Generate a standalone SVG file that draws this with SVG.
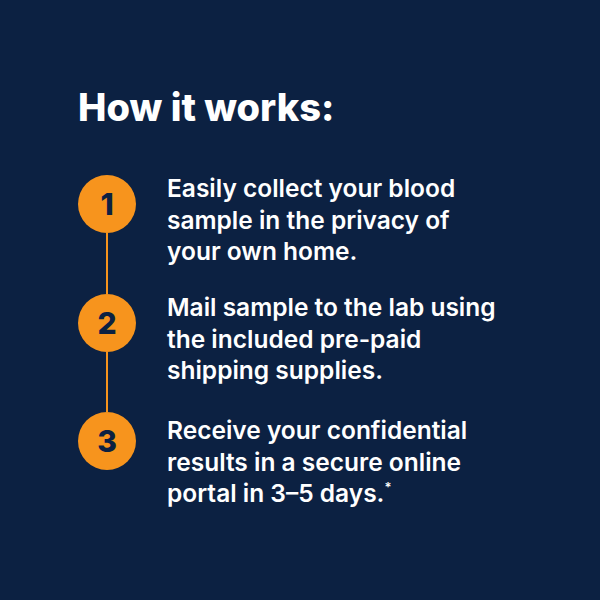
<svg xmlns="http://www.w3.org/2000/svg" width="600" height="600" viewBox="0 0 600 600">
<style>
.t{font-family:Inter,"Liberation Sans",sans-serif;fill:#fff;font-weight:600;font-size:24.5px}
.c{fill:#f7941d}
.n{font-family:Inter,"Liberation Sans",sans-serif;fill:#0c2142;font-weight:800;font-size:30px;text-anchor:middle}
</style>
<rect width="600" height="600" fill="#0c2142"/>
<text x="78" y="121" style="font-family:Inter,'Liberation Sans',sans-serif;fill:#fff;font-weight:800;font-size:38px">How it works:</text>
<g id="connectors" stroke="#f7941d" stroke-width="2">
<line x1="107" y1="233" x2="107" y2="294"/>
<line x1="107" y1="352" x2="107" y2="412"/>
</g>
<g id="step1"><circle class="c" cx="107" cy="204" r="29"/><text class="n" x="107" y="215">1</text>
<text class="t"><tspan x="167" y="197">Easily collect your blood</tspan><tspan x="167" y="229">sample in the privacy of</tspan><tspan x="167" y="260">your own home.</tspan></text></g>
<g id="step2"><circle class="c" cx="107" cy="323" r="29"/><text class="n" x="107" y="334">2</text>
<text class="t"><tspan x="167" y="316">Mail sample to the lab using</tspan><tspan x="167" y="348">the included pre-paid</tspan><tspan x="167" y="379">shipping supplies.</tspan></text></g>
<g id="step3"><circle class="c" cx="107" cy="441" r="29"/><text class="n" x="107" y="452">3</text>
<text class="t"><tspan x="167" y="439">Receive your confidential</tspan><tspan x="167" y="471">results in a secure online</tspan><tspan x="167" y="502">portal in 3–5 days.<tspan font-size="13" dy="-10">*</tspan></tspan></text></g>
</svg>
